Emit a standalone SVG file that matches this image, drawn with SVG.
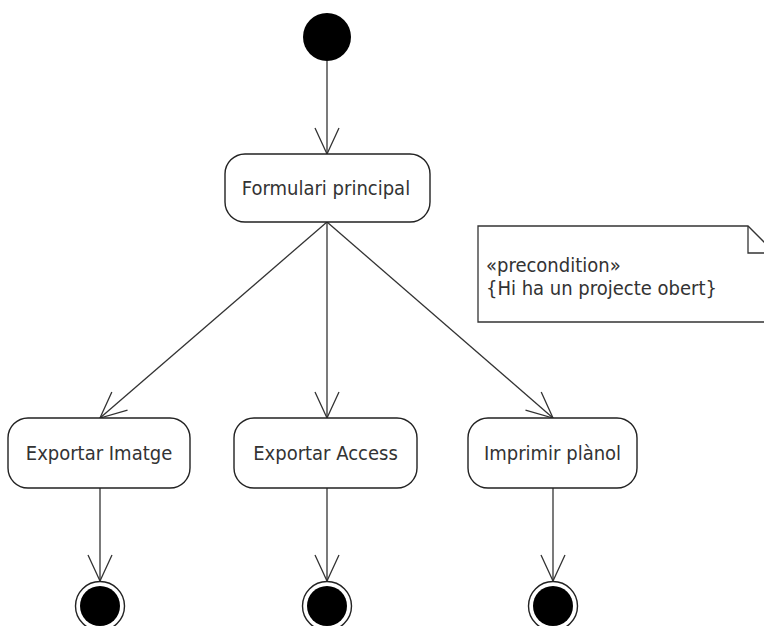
<svg xmlns="http://www.w3.org/2000/svg" width="764" height="626" viewBox="0 0 764 626">
  <style>
    .action { fill: #ffffff; stroke: #222; stroke-width: 1.4; }
    .label { font-family: "DejaVu Sans Condensed", "DejaVu Sans", Verdana, sans-serif; font-stretch: condensed; font-size: 20px; fill: #333; text-anchor: middle; }
    .note-text { font-family: "DejaVu Sans Condensed", "DejaVu Sans", Verdana, sans-serif; font-stretch: condensed; font-size: 20px; fill: #333; }
    .flow { fill: none; stroke: #333; stroke-width: 1.3; marker-end: url(#open-arrow); }
    .note { fill: #ffffff; stroke: #333; stroke-width: 1.3; }
  </style>
  <defs>
    <marker id="open-arrow" viewBox="-30 -14 32 28" refX="0" refY="0" markerWidth="32" markerHeight="28" markerUnits="userSpaceOnUse" orient="auto">
      <path d="M -26 -12 L 0 0 L -26 12" fill="none" stroke="#333" stroke-width="1.3"/>
    </marker>
  </defs>
  <rect width="764" height="626" fill="#ffffff"/>

  <g id="connectors">
    <line class="flow" x1="327" y1="61" x2="327" y2="154"/>
    <line class="flow" x1="327" y1="222" x2="100" y2="418"/>
    <line class="flow" x1="327" y1="222" x2="327" y2="418"/>
    <line class="flow" x1="327" y1="222" x2="553" y2="418"/>
    <line class="flow" x1="100" y1="488" x2="100" y2="581"/>
    <line class="flow" x1="327" y1="488" x2="327" y2="581"/>
    <line class="flow" x1="553" y1="488" x2="553" y2="581"/>
  </g>

  <g id="start">
    <circle cx="327" cy="37" r="24" fill="#000"/>
  </g>

  <g id="formulari-principal">
    <rect class="action" x="225" y="154" width="205" height="68" rx="20" ry="20"/>
    <text class="label" x="326" y="195">Formulari principal</text>
  </g>

  <g id="note-precondition">
    <path class="note" d="M 478 226 L 748 226 L 776 254 L 776 322 L 478 322 Z"/>
    <path d="M 748 226 L 748 253 L 776 253" fill="none" stroke="#333" stroke-width="1.3"/>
    <text class="note-text" x="486" y="272">«precondition»</text>
    <text class="note-text" x="486" y="295">{Hi ha un projecte obert}</text>
  </g>

  <g id="exportar-imatge">
    <rect class="action" x="8" y="418" width="182" height="70" rx="20" ry="20"/>
    <text class="label" x="99" y="460">Exportar Imatge</text>
  </g>

  <g id="exportar-access">
    <rect class="action" x="234" y="418" width="183" height="70" rx="20" ry="20"/>
    <text class="label" x="325.5" y="460">Exportar Access</text>
  </g>

  <g id="imprimir-planol">
    <rect class="action" x="468" y="418" width="169" height="70" rx="20" ry="20"/>
    <text class="label" x="552.5" y="460">Imprimir plànol</text>
  </g>

  <g id="end-1">
    <circle cx="100" cy="606" r="24.5" fill="#fff" stroke="#222" stroke-width="1.4"/>
    <circle cx="100" cy="606" r="20" fill="#000"/>
  </g>
  <g id="end-2">
    <circle cx="327" cy="606" r="24.5" fill="#fff" stroke="#222" stroke-width="1.4"/>
    <circle cx="327" cy="606" r="20" fill="#000"/>
  </g>
  <g id="end-3">
    <circle cx="553" cy="606" r="24.5" fill="#fff" stroke="#222" stroke-width="1.4"/>
    <circle cx="553" cy="606" r="20" fill="#000"/>
  </g>
</svg>
